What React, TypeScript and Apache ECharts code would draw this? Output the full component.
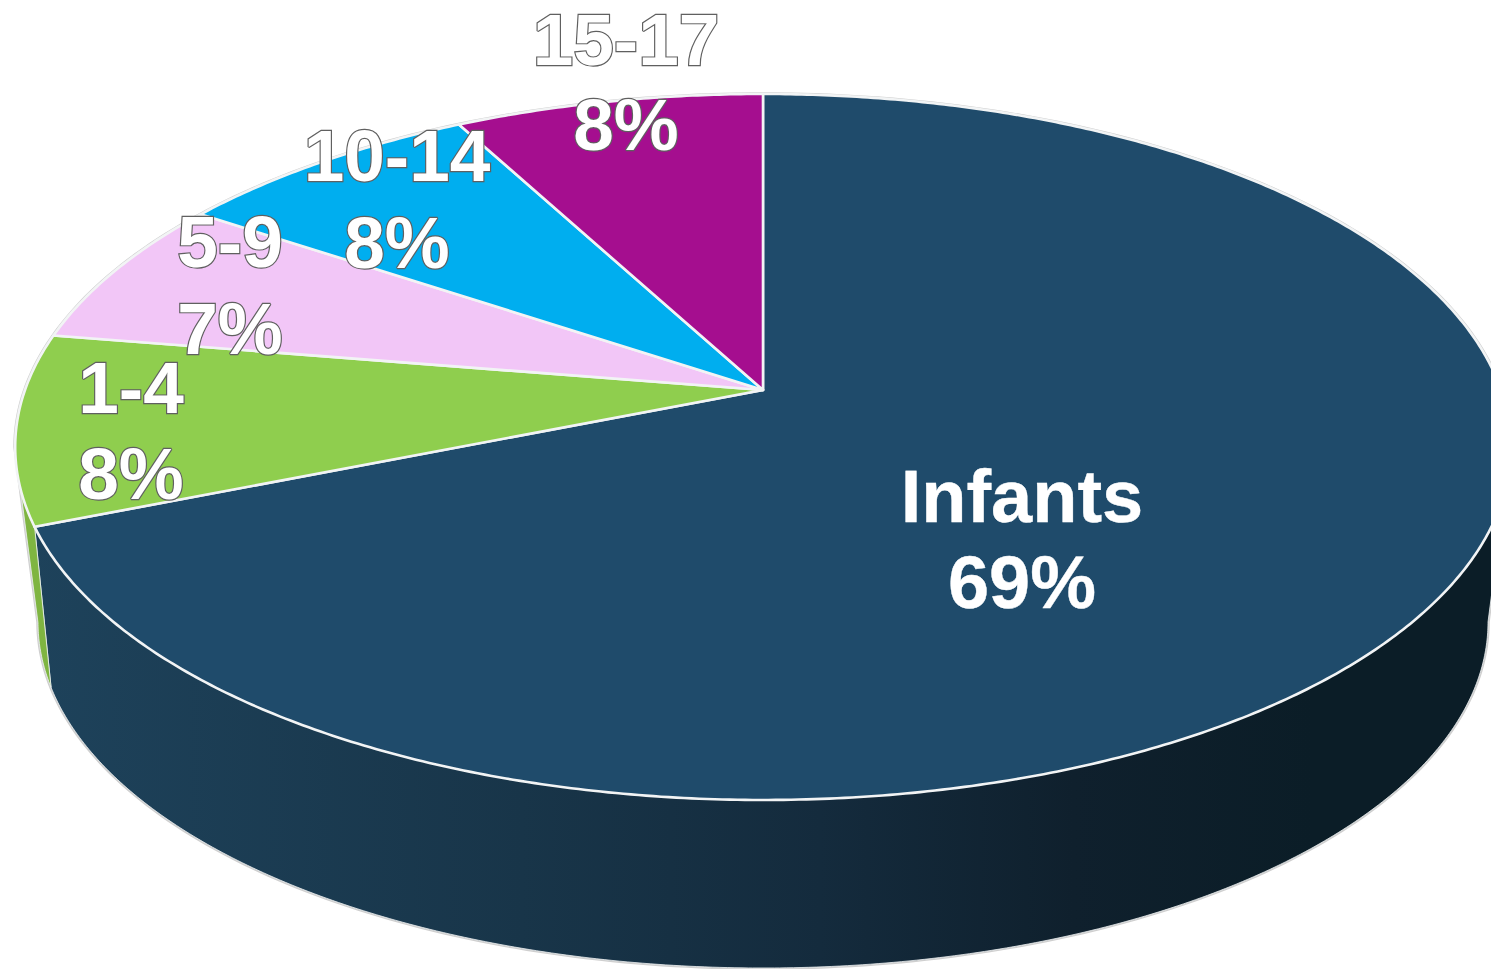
import React, { useEffect, useRef } from "react";
import * as echarts from "echarts";

// Data, clockwise from 12 o'clock
const categories = ["Infants", "1-4", "5-9", "10-14", "15-17"];
const shares = [68.9, 8.7, 6.8, 7.8, 7.8];
const percentLabels = ["69%", "8%", "7%", "8%", "8%"];

// Styles
const topColors = ["#1f4b6b", "#8fce4e", "#f2c6f7", "#00aeef", "#a50e8f"];
const wallColors = ["", "#7fb541", "", "", ""];
const FONT = '"Liberation Sans", Arial, sans-serif';

// Layout of the perspective disc
const W = 1491;
const H = 969;
const CX = 763;
const APEX_Y = 390;
const K = -0.1614;
const B = 343.8;
const C = 738;
const TOP_E = { cy: 447, rx: 748, ry: 353 };
const BOT_E = { cy: 622, rx: 725, ry: 346 };
const labelAnchors = [
  { x: 1022, l1: 496, l2: 582, size: 74 },
  { x: 131, l1: 387, l2: 473, size: 73 },
  { x: 230, l1: 241.5, l2: 328, size: 73 },
  { x: 397, l1: 155.5, l2: 242, size: 73 },
  { x: 626, l1: 39, l2: 124, size: 73 },
];

const total = shares.reduce((a, b) => a + b, 0);
const starts: number[] = [];
shares.reduce((acc, v, i) => {
  starts[i] = acc;
  return acc + v;
}, 0);

const project = (a: number) => {
  const u = Math.sin(a);
  const v = -Math.cos(a);
  const d = 1 + K * v;
  return [CX + (C * u) / d, APEX_Y + (B * v) / d];
};
const toBottom = (p: number[]) => {
  const cp = (p[0] - CX) / TOP_E.rx;
  const sp = Math.max(0, Math.min(1, (p[1] - TOP_E.cy) / TOP_E.ry));
  const s2 = Math.pow(sp, 1.12);
  const c2 = Math.sign(cp) * Math.sqrt(1 - s2 * s2);
  return [CX + BOT_E.rx * c2, BOT_E.cy + BOT_E.ry * s2];
};
const sliceAngles = (i: number, n: number) => {
  const a0 = (starts[i] / total) * 2 * Math.PI;
  const a1 = ((starts[i] + shares[i]) / total) * 2 * Math.PI;
  const out: number[] = [];
  const steps = Math.max(4, Math.ceil(((a1 - a0) / (2 * Math.PI)) * n));
  for (let s = 0; s <= steps; s++) out.push(a0 + ((a1 - a0) * s) / steps);
  return out;
};
const wallPoints = (i: number) => {
  const top = sliceAngles(i, 720)
    .map(project)
    .filter((p) => p[1] >= TOP_E.cy);
  if (top.length < 2) return null;
  return [...top, ...top.map(toBottom).reverse()];
};
const silhouette = () => {
  const pts: number[][] = [];
  for (let d = 180; d <= 360; d += 1) {
    const t = (d * Math.PI) / 180;
    pts.push([CX + TOP_E.rx * Math.cos(t), TOP_E.cy + TOP_E.ry * Math.sin(t)]);
  }
  for (let d = 0; d <= 180; d += 1) {
    const t = (d * Math.PI) / 180;
    pts.push([CX + BOT_E.rx * Math.cos(t), BOT_E.cy + BOT_E.ry * Math.sin(t)]);
  }
  return pts;
};

const wallGradient = {
  type: "linear",
  global: true,
  x: 0,
  y: 0,
  x2: W,
  y2: 0,
  colorStops: [
    { offset: 0, color: "#1e435c" },
    { offset: 0.35, color: "#183549" },
    { offset: 0.55, color: "#142b3d" },
    { offset: 0.72, color: "#0f202d" },
    { offset: 0.88, color: "#0b1d27" },
    { offset: 1, color: "#0b1d27" },
  ],
};

export default function App() {
  const ref = useRef<HTMLDivElement>(null);
  useEffect(() => {
    document.body.style.margin = "0";
    document.body.style.background = "#ffffff";
    const chart = echarts.init(ref.current!, undefined, { renderer: "svg" });
    const seriesData = categories.map((name, i) => ({ name, value: shares[i] }));
    chart.setOption({
      animation: false,
      backgroundColor: "#ffffff",
      series: [
        {
          type: "custom",
          coordinateSystem: "none",
          silent: true,
          data: [0],
          renderItem: () => ({
            type: "polygon",
            shape: { points: silhouette() },
            style: { fill: "#d2d2d2", stroke: "#cfcfcf", lineWidth: 3.5 },
          }),
        },
        {
          type: "custom",
          coordinateSystem: "none",
          silent: true,
          data: seriesData,
          renderItem: (p: any) => {
            const pts = wallPoints(p.dataIndex);
            if (!pts) return { type: "group", children: [] };
            return {
              type: "polygon",
              shape: { points: pts },
              style: {
                fill: p.dataIndex === 0 ? wallGradient : wallColors[p.dataIndex],
                stroke: "#eef1f3",
                lineWidth: 0.8,
              },
            };
          },
        },
        {
          type: "custom",
          coordinateSystem: "none",
          silent: true,
          data: seriesData,
          renderItem: (p: any) => {
            const arc = sliceAngles(p.dataIndex, 720).map(project);
            return {
              type: "polygon",
              shape: { points: [[CX, APEX_Y], ...arc] },
              style: {
                fill: topColors[p.dataIndex],
                stroke: "#f2f4f5",
                lineWidth: 2.6,
                lineJoin: "round",
              },
            };
          },
        },
        {
          type: "custom",
          coordinateSystem: "none",
          silent: true,
          data: seriesData,
          renderItem: (p: any) => {
            const i = p.dataIndex;
            const a = labelAnchors[i];
            const line = (text: string, y: number) => ({
              type: "text",
              x: a.x,
              y,
              style: {
                text,
                fill: "#ffffff",
                stroke: i === 0 ? "#ffffff" : "#606060",
                lineWidth: i === 0 ? 0.4 : 2.4,
                strokeFirst: true,
                align: "center",
                verticalAlign: "middle",
                font: `bold ${a.size}px ${FONT}`,
              },
            });
            return {
              type: "group",
              children: [line(categories[i], a.l1), line(percentLabels[i], a.l2)],
            };
          },
        },
      ],
    });
    return () => chart.dispose();
  }, []);
  return <div ref={ref} style={{ width: W, height: H, overflow: "hidden" }} />;
}
